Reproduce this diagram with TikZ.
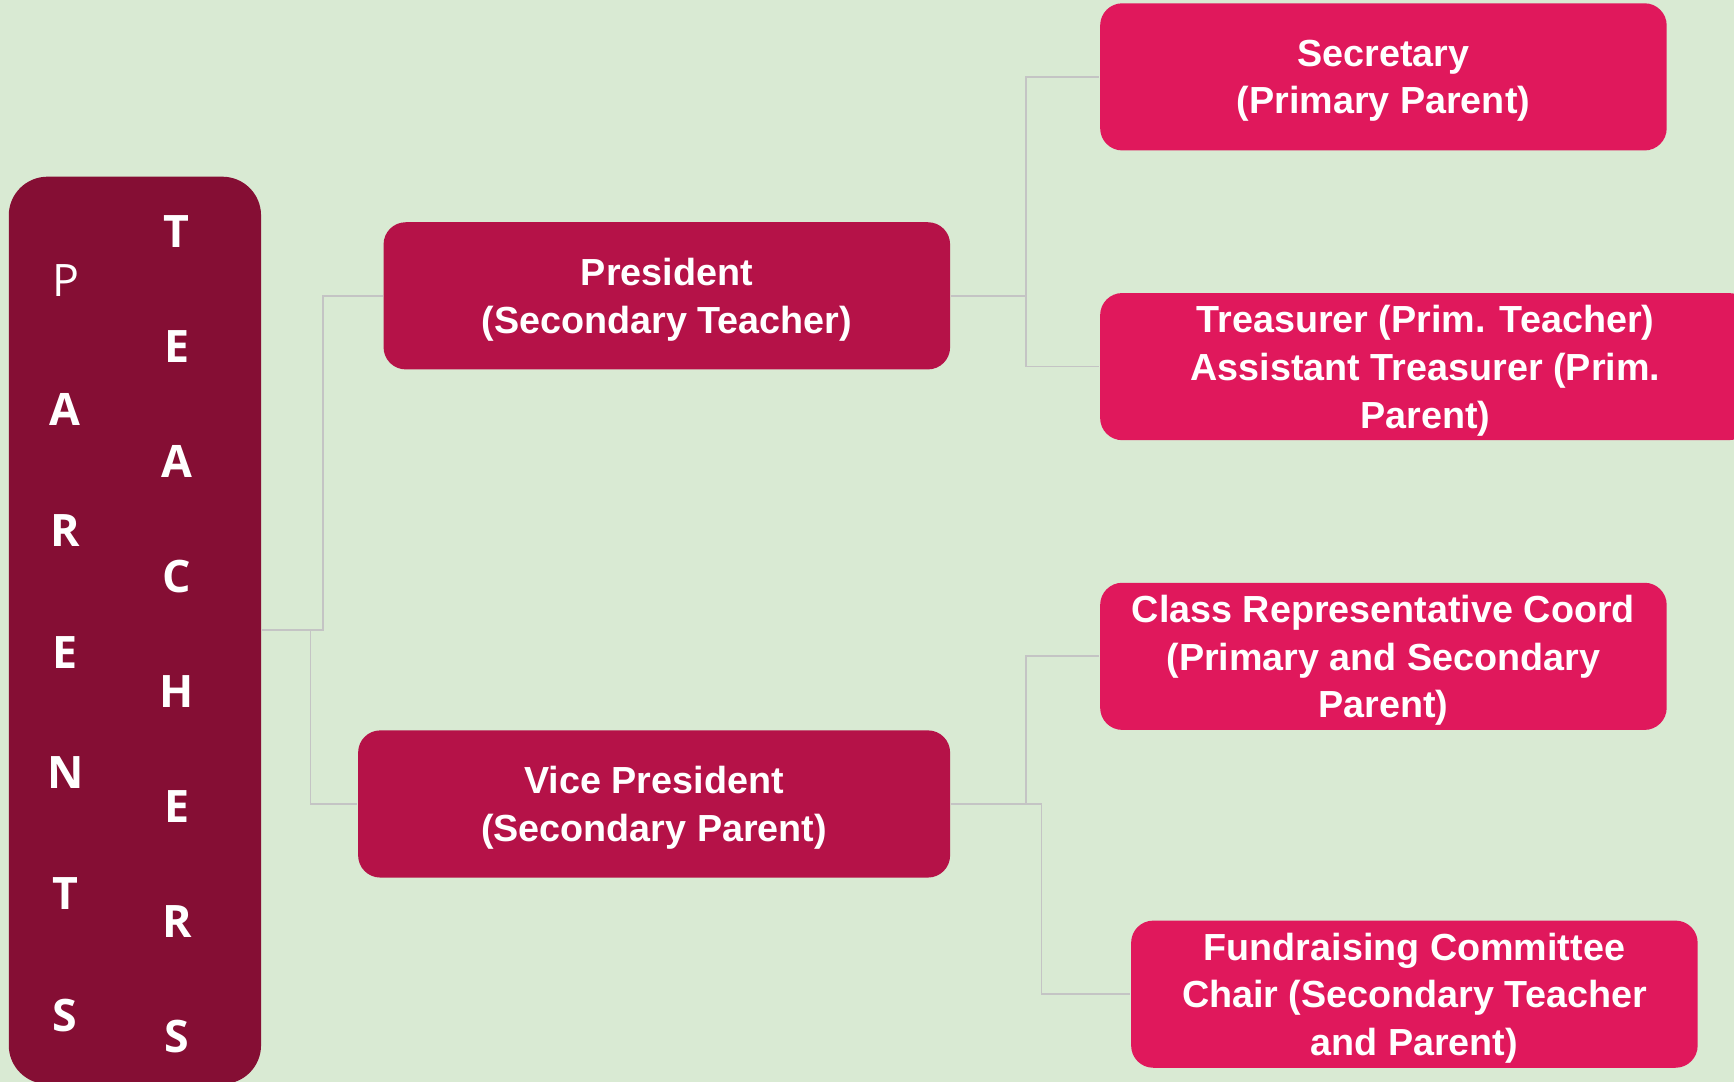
\documentclass[tikz,border=0pt]{standalone}
\usepackage{fontspec}
\setmainfont{Liberation Sans}
\newfontfamily\barfont{Open Sans}
\usetikzlibrary{positioning}
\definecolor{bggreen}{RGB}{217,234,211}
\definecolor{barred}{RGB}{133,14,52}
\definecolor{midred}{RGB}{181,18,72}
\definecolor{pinkred}{RGB}{224,24,92}
\definecolor{linegrey}{RGB}{196,196,196}

\begin{document}
\begin{tikzpicture}[x=0.01cm, y=-0.01cm,
        bar/.style={rectangle, rounded corners=0.35cm, fill=barred, minimum width=2.28cm, minimum height=8.2cm},
        letter/.style={text=white, inner sep=0pt, font=\barfont\bfseries\fontsize{11.5}{11.5}\selectfont},
        box/.style={rectangle, rounded corners=0.2cm, minimum height=1.33cm, inner sep=0pt, text depth=-0.6pt, text=white, align=center, font=\bfseries\fontsize{9.7}{12.3}\selectfont},
        midbox/.style={box, fill=midred},
        sidebox/.style={box, fill=pinkred, minimum width=5.12cm},
        link/.style={draw=linegrey, line width=0.45pt}]
        \useasboundingbox (0,0) rectangle (1568,978);
        \fill[bggreen] (0,0) rectangle (1568,978);

        % left column
        \node[bar] (pta) at (122,570) {};
        \node[letter, font=\barfont\fontsize{11.5}{11.5}\selectfont] (par0) at (60,254) {P};
        \foreach \l/\y [count=\i] in {A/370,R/480,E/590,N/699,T/808,S/918}
            \node[letter] (par\i) at (59,\y) {\l};
        \foreach \l [count=\i from 0] in {T,E,A,C,H,E,R,S}
            \node[letter] (tea\i) at (160,209+104*\i) {\l};

        % officers
        \node[midbox, minimum width=5.12cm] (pres) at (603,267.5) {President\\(Secondary Teacher)};
        \node[midbox, minimum width=5.35cm] (vice) at (591.5,727) {Vice President\\(Secondary Parent)};

        \node[sidebox] (sec) at (1251,69.5) {Secretary\\(Primary Parent)};
        \node[sidebox, minimum width=5.88cm] (treas) at (1289,331.5) {Treasurer (Prim. Teacher)\\Assistant Treasurer (Prim.\\Parent)};
        \node[sidebox] (rep) at (1251,593.5) {Class Representative Coord\\(Primary and Secondary\\Parent)};
        \node[sidebox] (fund) at (1279,899) {Fundraising Committee\\Chair (Secondary Teacher\\and Parent)};

        % connectors
        \draw[link] (pta.east) -- ++(55,0) |- (pres.west);
        \draw[link] (pta.east) -- ++(44,0) |- (vice.west);
        \draw[link] (pres.east) -- ++(68,0) |- (sec.west);
        \draw[link] (pres.east) -- ++(68,0) |- (treas.west);
        \draw[link] (vice.east) -- ++(68,0) |- (rep.west);
        \draw[link] (vice.east) -- ++(82,0) |- (fund.west);
    \end{tikzpicture}
\end{document}
